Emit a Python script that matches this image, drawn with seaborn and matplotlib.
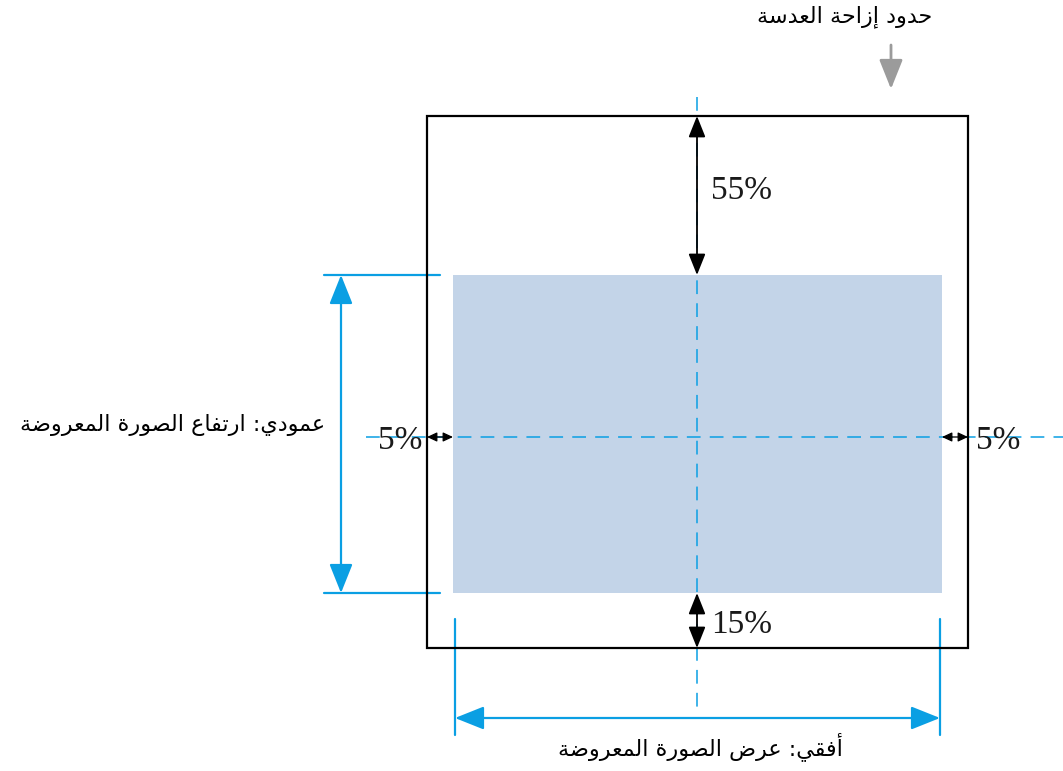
"""Lens shift range diagram — projected image inside the lens shift limits."""
import matplotlib
matplotlib.use("Agg")
import matplotlib.pyplot as plt
import seaborn as sns
from matplotlib.patches import Rectangle

# labels / values
TITLE = "حدود إزاحة العدسة"
VERT_LABEL = "عمودي: ارتفاع الصورة المعروضة"
HORIZ_LABEL = "أفقي: عرض الصورة المعروضة"
SHIFT_NAMES = ["up", "down", "left", "right"]
SHIFT_PCT = [55, 15, 5, 5]

# geometry (pixel space of the 1063x771 canvas)
W, H = 1063, 771
BOX = (427, 116, 968, 648)      # lens shift limits x0, y0, x1, y1
IMG = (453, 275, 942, 593)      # projected image
CX, CY = 697, 437               # centre lines

BLUE = "#0a9fe3"
FILL = "#c3d4e8"
GREY = "#9b9b9b"

# minimal arabic shaping: (isolated form, number of forms)
_AR = {"ا": (0xFE8D, 2), "أ": (0xFE83, 2), "إ": (0xFE87, 2), "د": (0xFEA9, 2),
       "ر": (0xFEAD, 2), "ز": (0xFEAF, 2), "و": (0xFEED, 2), "ة": (0xFE93, 2),
       "ت": (0xFE95, 4), "ح": (0xFEA1, 4), "س": (0xFEB1, 4), "ص": (0xFEB9, 4),
       "ض": (0xFEBD, 4), "ع": (0xFEC9, 4), "ف": (0xFED1, 4), "ق": (0xFED5, 4),
       "ل": (0xFEDD, 4), "م": (0xFEE1, 4), "ي": (0xFEF1, 4)}


def shape(text):
    out = []
    for i, ch in enumerate(text):
        if ch not in _AR:
            out.append(ch)
            continue
        base, n = _AR[ch]
        prev = text[i - 1] if i > 0 else ""
        nxt = text[i + 1] if i + 1 < len(text) else ""
        jp = prev in _AR and _AR[prev][1] == 4
        jn = n == 4 and nxt in _AR
        code = base + (3 if jp and jn else 1 if jp else 2 if jn else 0)
        out.append(chr(code))
    return "".join(reversed(out))


def arrow(ax, p0, p1, color, lw, style, ms):
    ax.annotate("", xy=p1, xytext=p0,
                arrowprops=dict(arrowstyle=style, color=color, lw=lw,
                                mutation_scale=ms, shrinkA=0, shrinkB=0))


sns.set_theme(style="white")
plt.rcParams["font.family"] = ["DejaVu Sans"]

fig = plt.figure(figsize=(W / 100, H / 100), dpi=100)
ax = fig.add_axes([0, 0, 1, 1])
ax.set_xlim(0, W)
ax.set_ylim(H, 0)
ax.axis("off")

# projected image + limits box
ax.add_patch(Rectangle((IMG[0], IMG[1]), IMG[2] - IMG[0], IMG[3] - IMG[1],
                       facecolor=FILL, edgecolor="none", zorder=1))
ax.add_patch(Rectangle((BOX[0], BOX[1]), BOX[2] - BOX[0], BOX[3] - BOX[1],
                       facecolor="none", edgecolor="black", lw=1.6, zorder=3))

# dashed centre lines
dash = (0, (9, 6))
ax.plot([CX, CX], [97, 708], color=BLUE, lw=1.1, ls=dash, zorder=2)
ax.plot([366, W], [CY, CY], color=BLUE, lw=1.1, ls=dash, zorder=2)

# shift arrows (black)
big = "<|-|>,head_length=0.65,head_width=0.26"
small = "<|-|>,head_length=0.6,head_width=0.28"
arrow(ax, (CX, BOX[1]), (CX, IMG[1]), "black", 1.3, big, 20)
arrow(ax, (CX, IMG[3]), (CX, BOX[3]), "black", 1.3, big, 20)
arrow(ax, (BOX[0], CY), (IMG[0], CY), "black", 0.9, small, 10)
arrow(ax, (IMG[2], CY), (BOX[2], CY), "black", 0.9, small, 10)

pct = dict(zip(SHIFT_NAMES, SHIFT_PCT))
serif = dict(family="Liberation Serif", fontsize=24, color="#1a1a1a", va="center")
ax.text(711, 191, f"{pct['up']}%", ha="left", **serif)
ax.text(711, 625, f"{pct['down']}%", ha="left", **serif)
ax.text(422, 441, f"{pct['left']}%", ha="right", **serif)
ax.text(976, 441, f"{pct['right']}%", ha="left", **serif)

# vertical size (blue)
ax.plot([324, 440], [IMG[1], IMG[1]], color=BLUE, lw=1.6)
ax.plot([324, 440], [IMG[3], IMG[3]], color=BLUE, lw=1.6)
blue = "<|-|>,head_length=0.9,head_width=0.36"
arrow(ax, (341, IMG[1]), (341, IMG[3]), BLUE, 1.6, blue, 20)

# horizontal size (blue)
ax.plot([455, 455], [619, 735], color=BLUE, lw=1.6)
ax.plot([940, 940], [619, 735], color=BLUE, lw=1.6)
arrow(ax, (455, 718), (940, 718), BLUE, 1.6, blue, 20)

# limits pointer
ax.annotate("", xy=(891, 89), xytext=(891, 45),
            arrowprops=dict(arrowstyle="-|>,head_length=0.9,head_width=0.36",
                            color=GREY, lw=2, mutation_scale=20,
                            shrinkA=0, shrinkB=0))

ax.text(845, 17, shape(TITLE), ha="center", va="center", fontsize=16, color="black")
ax.text(325, 425, shape(VERT_LABEL), ha="right", va="center", fontsize=16, color="black")
ax.text(700, 747, shape(HORIZ_LABEL), ha="center", va="center", fontsize=16, color="black")

fig.savefig("out.png", dpi=100)
plt.close(fig)
